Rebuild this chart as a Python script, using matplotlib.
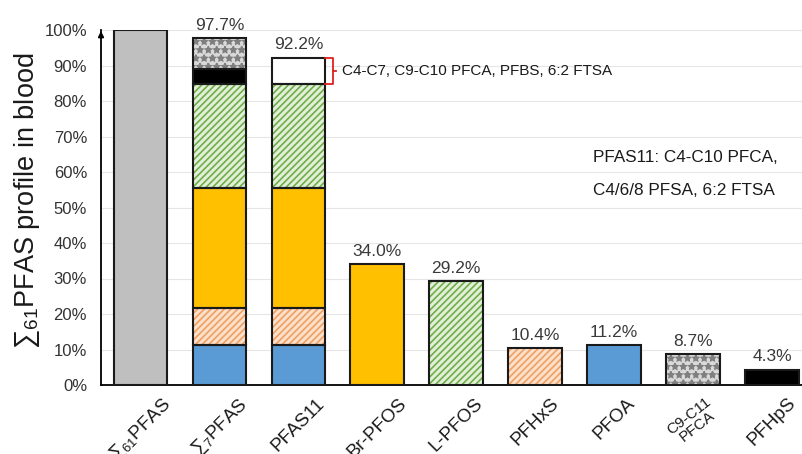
import matplotlib
matplotlib.use("Agg")
import matplotlib.pyplot as plt
from matplotlib.ticker import PercentFormatter

plt.rcParams['font.family'] = ['Liberation Sans', 'DejaVu Sans']
plt.rcParams['mathtext.fontset'] = 'custom'
plt.rcParams['mathtext.rm'] = 'Liberation Sans'
plt.rcParams['mathtext.it'] = 'Liberation Sans'
plt.rcParams['hatch.linewidth'] = 1.2

# ---- data ----
categories = [r'$\mathregular{∑_{61}}$PFAS', r'$\mathregular{∑_{7}}$PFAS', 'PFAS11', 'Br-PFOS',
              'L-PFOS', 'PFHxS', 'PFOA', 'C9-C11\nPFCA', 'PFHpS']
bar_totals = [100.0, 97.7, 92.2, 34.0, 29.2, 10.4, 11.2, 8.7, 4.3]

pfoa = 11.2
pfhxs = 10.4
br_pfos = 34.0
l_pfos = 29.2
pfhps = 4.3
c9_c11_pfca = 8.7
pfas11_others = 7.4   # C4-C7, C9-C10 PFCA, PFBS, 6:2 FTSA

# component styles: (face, hatch, hatch colour)
styles = {
    'total': ('#bfbfbf', None, None),
    'pfoa': ('#5b9bd5', None, None),
    'pfhxs': ('#fbe0cc', '/////', '#f0a060'),
    'br_pfos': ('#ffc000', None, None),
    'l_pfos': ('#e2f0d9', '/////', '#70ad47'),
    'pfhps': ('#000000', None, None),
    'c9c11': ('#d9d9d9', '**', '#7f7f7f'),
    'other': ('#ffffff', None, None),
}

stacks = [
    [('total', 100.0)],
    [('pfoa', pfoa), ('pfhxs', pfhxs), ('br_pfos', br_pfos), ('l_pfos', l_pfos),
     ('pfhps', pfhps), ('c9c11', c9_c11_pfca)],
    [('pfoa', pfoa), ('pfhxs', pfhxs), ('br_pfos', br_pfos), ('l_pfos', l_pfos),
     ('other', pfas11_others)],
    [('br_pfos', br_pfos)],
    [('l_pfos', l_pfos)],
    [('pfhxs', pfhxs)],
    [('pfoa', pfoa)],
    [('c9c11', c9_c11_pfca)],
    [('pfhps', pfhps)],
]

fig = plt.figure(figsize=(8.02, 4.54), dpi=100)
ax = fig.add_axes([101 / 802, 69 / 454, 710.5 / 802, 355 / 454])

width = 0.68
for i, stack in enumerate(stacks):
    bottom = 0.0
    for key, val in stack:
        face, hatch, hcol = styles[key]
        if hatch:
            ax.bar(i, val, width, bottom=bottom, color=face, hatch=hatch,
                   edgecolor=hcol, linewidth=0, zorder=3)
        else:
            ax.bar(i, val, width, bottom=bottom, color=face, linewidth=0, zorder=3)
        ax.bar(i, val, width, bottom=bottom, fill=False, edgecolor='#1a1a1a',
               linewidth=1.5, zorder=4)
        bottom += val

# value labels
for i, tot in enumerate(bar_totals):
    if i == 0:
        continue
    ax.annotate(f'{tot:.1f}%', (i, tot), xytext=(0, 4), textcoords='offset points',
                ha='center', va='bottom', fontsize=12.5, color='#3a3a3a')

# bracket for the PFAS11 remainder
x_r = 2 + width / 2
y0 = pfoa + pfhxs + br_pfos + l_pfos
y1 = bar_totals[2]
xb = x_r + 0.1
ax.plot([x_r, xb, xb, x_r], [y1, y1, y0, y0], color='#e02020', lw=1.3, zorder=5,
        clip_on=False)
ym = (y0 + y1) / 2
ax.plot([xb, xb + 0.04], [ym, ym], color='#e02020', lw=1.3, zorder=5)
ax.text(xb + 0.11, ym, 'C4-C7, C9-C10 PFCA, PFBS, 6:2 FTSA', fontsize=11,
        va='center', ha='left', color='#1a1a1a')

ax.text(5.73, 64.2, 'PFAS11: C4-C10 PFCA,', fontsize=12.3, ha='left', va='center',
        color='#1a1a1a')
ax.text(5.73, 54.9, 'C4/6/8 PFSA, 6:2 FTSA', fontsize=12.3, ha='left', va='center',
        color='#1a1a1a')

ax.set_xlim(-0.5, 8.5)
ax.set_ylim(0, 100)
ax.set_yticks(range(0, 101, 10))
ax.yaxis.set_major_formatter(PercentFormatter(decimals=0))
ax.tick_params(axis='y', length=0, pad=10, labelsize=12, labelcolor='#333333')
ax.tick_params(axis='x', length=0, pad=7)
ax.set_xticks(range(len(categories)))
ax.set_xticklabels(categories, rotation=45, ha='center', va='top', fontsize=13.5,
                   color='#1a1a1a')
for lbl in ax.get_xticklabels():
    if '\n' in lbl.get_text():
        lbl.set_fontsize(11)
        lbl.set_rotation(38)
        lbl.set_linespacing(0.9)
        lbl.set_multialignment('center')

ax.grid(axis='y', color='#e6e6e6', linewidth=0.8, zorder=0)
ax.set_axisbelow(True)
for s in ['top', 'right']:
    ax.spines[s].set_visible(False)
ax.spines['left'].set_linewidth(1.3)
ax.spines['bottom'].set_linewidth(1.3)
ax.annotate('', xy=(-0.5, 100.5), xytext=(-0.5, 97),
            arrowprops=dict(arrowstyle='-|>', color='black', lw=1.3,
                            mutation_scale=8), annotation_clip=False)

fig.text(27 / 802, 1 - 201 / 454, r'$\mathregular{∑_{61}}$PFAS profile in blood',
         rotation=90, ha='center', va='center', fontsize=19.5, color='#1a1a1a')

fig.savefig('out.png', dpi=100)
